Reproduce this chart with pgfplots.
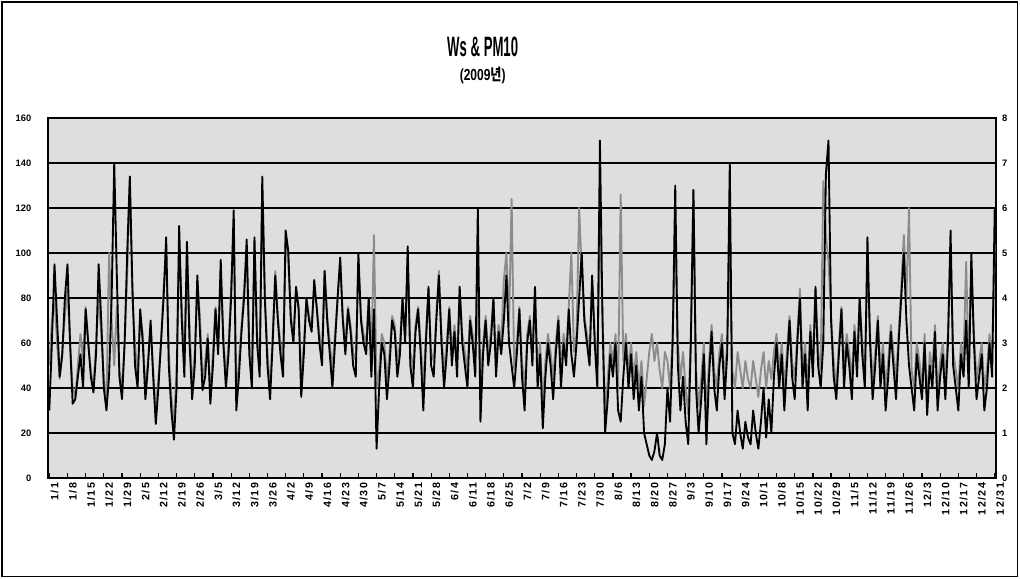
\documentclass[border=0pt]{standalone}
\usepackage{pgfplots}
\pgfplotsset{compat=1.18}
\usepackage{pgfplotstable}
\usepackage{graphicx}
\usepackage{fontspec}
\setmainfont{Liberation Sans}
\newfontfamily\cjk{Noto Sans CJK KR}
\newfontfamily\xtf{Liberation Sans}[LetterSpace=14]

% PM10 (left axis), one value per day 1/1 .. 12/31
\pgfplotstableread[row sep=\\]{v\\
30\\60\\95\\70\\45\\55\\80\\95\\60\\33\\
35\\45\\55\\40\\75\\60\\45\\38\\55\\95\\
70\\40\\30\\45\\80\\140\\90\\45\\35\\60\\
100\\134\\85\\50\\40\\75\\60\\35\\50\\70\\
45\\24\\40\\60\\80\\107\\50\\30\\17\\40\\
112\\70\\45\\105\\60\\35\\50\\90\\65\\39\\
45\\62\\33\\50\\75\\55\\97\\60\\40\\55\\
80\\119\\30\\45\\65\\80\\106\\55\\40\\107\\
60\\45\\134\\80\\50\\35\\60\\90\\70\\55\\
45\\110\\101\\70\\60\\85\\75\\36\\55\\80\\
70\\65\\88\\75\\60\\50\\92\\70\\55\\40\\
60\\80\\98\\70\\55\\75\\65\\50\\45\\100\\
70\\60\\55\\80\\45\\75\\13\\40\\60\\55\\
35\\50\\70\\65\\45\\55\\80\\60\\103\\50\\
40\\65\\75\\55\\30\\60\\85\\50\\45\\70\\
90\\60\\40\\55\\75\\50\\65\\45\\85\\60\\
50\\40\\70\\60\\45\\120\\25\\55\\70\\50\\
60\\80\\45\\65\\55\\70\\90\\60\\50\\40\\
55\\75\\45\\30\\60\\70\\50\\85\\40\\55\\
22\\45\\60\\50\\35\\55\\70\\40\\60\\50\\
75\\55\\45\\60\\80\\100\\70\\60\\50\\90\\
60\\40\\150\\70\\20\\35\\55\\45\\60\\30\\
25\\45\\60\\40\\55\\35\\50\\30\\45\\20\\
15\\10\\8\\12\\20\\10\\8\\15\\40\\25\\
60\\130\\50\\30\\45\\25\\15\\60\\128\\40\\
20\\35\\55\\15\\45\\65\\40\\30\\50\\60\\
35\\55\\140\\20\\15\\30\\20\\13\\25\\18\\
15\\30\\20\\13\\25\\40\\18\\35\\20\\45\\
60\\40\\55\\30\\50\\70\\45\\35\\60\\80\\
40\\55\\30\\65\\45\\85\\50\\40\\60\\135\\
150\\70\\45\\35\\55\\75\\40\\60\\50\\35\\
65\\45\\80\\55\\40\\107\\60\\35\\50\\70\\
40\\55\\30\\45\\65\\50\\35\\60\\80\\100\\
70\\50\\40\\30\\55\\45\\35\\60\\28\\50\\
40\\65\\30\\45\\55\\35\\60\\110\\50\\40\\
30\\55\\45\\70\\40\\100\\60\\35\\45\\55\\
30\\40\\60\\45\\120\\
}\pmdata

% Ws (right axis), one value per day
\pgfplotstableread[row sep=\\]{v\\
2.5\\3.5\\4.0\\3.0\\2.2\\2.8\\3.6\\4.2\\3.0\\2.0\\
1.8\\2.5\\3.2\\2.6\\3.8\\3.0\\2.4\\2.0\\3.0\\4.0\\
3.2\\2.2\\1.6\\5.0\\3.5\\2.5\\3.8\\2.4\\2.0\\3.0\\
4.5\\6.6\\4.0\\3.0\\2.2\\3.6\\3.2\\2.0\\2.6\\3.4\\
2.4\\1.5\\2.2\\3.0\\4.2\\5.0\\2.8\\1.8\\1.2\\2.4\\
5.2\\3.8\\2.6\\5.0\\3.4\\2.0\\2.8\\4.4\\3.6\\2.2\\
2.6\\3.2\\1.8\\2.8\\3.8\\3.0\\4.6\\3.2\\2.2\\3.0\\
4.2\\5.6\\1.8\\2.6\\3.4\\4.2\\5.0\\3.0\\2.4\\5.2\\
3.2\\2.6\\6.4\\4.0\\2.8\\2.0\\3.2\\4.6\\3.6\\3.0\\
2.6\\5.4\\4.8\\3.6\\3.2\\4.2\\3.8\\2.2\\3.0\\4.0\\
3.6\\3.4\\4.2\\3.8\\3.2\\2.8\\4.6\\3.6\\3.0\\2.4\\
3.2\\4.0\\4.8\\3.6\\3.0\\3.8\\3.4\\2.8\\2.6\\4.8\\
3.6\\3.2\\3.0\\4.0\\2.6\\5.4\\2.0\\2.4\\3.2\\3.0\\
2.2\\2.8\\3.6\\3.4\\2.6\\3.0\\4.0\\3.2\\4.8\\2.8\\
2.4\\3.4\\3.8\\3.0\\2.0\\3.2\\4.2\\2.8\\2.6\\3.6\\
4.6\\3.2\\2.4\\3.0\\3.8\\2.8\\3.4\\2.6\\4.2\\3.2\\
2.8\\2.4\\3.6\\3.2\\2.6\\4.0\\2.0\\3.0\\3.6\\2.8\\
3.2\\4.0\\2.6\\3.4\\3.0\\4.4\\5.0\\3.4\\6.2\\2.4\\
3.0\\3.8\\2.6\\2.0\\3.2\\3.6\\2.8\\4.2\\2.4\\3.0\\
1.6\\2.6\\3.2\\2.8\\2.2\\3.0\\3.6\\2.4\\3.2\\2.8\\
3.8\\5.0\\2.8\\3.2\\6.0\\4.6\\3.6\\3.2\\2.8\\4.4\\
3.2\\2.4\\5.6\\3.6\\1.4\\2.2\\3.0\\2.6\\3.2\\2.0\\
6.3\\2.6\\3.2\\2.4\\3.0\\2.2\\2.8\\2.0\\2.6\\1.6\\
2.2\\2.8\\3.2\\2.6\\3.0\\2.4\\2.0\\2.8\\2.6\\2.0\\
3.2\\5.4\\3.0\\2.2\\2.8\\2.0\\1.4\\3.2\\6.4\\2.4\\
1.6\\2.2\\3.0\\1.4\\2.6\\3.4\\2.4\\2.0\\2.8\\3.2\\
2.2\\3.0\\5.0\\2.4\\2.0\\2.8\\2.4\\2.0\\2.6\\2.2\\
2.0\\2.6\\2.2\\1.8\\2.4\\2.8\\2.0\\2.6\\2.2\\2.8\\
3.2\\2.4\\3.0\\2.0\\2.8\\3.6\\2.6\\2.2\\3.2\\4.2\\
2.4\\3.0\\2.0\\3.4\\2.6\\4.2\\2.8\\2.4\\6.6\\5.4\\
4.8\\3.6\\2.6\\2.0\\3.0\\3.8\\2.4\\3.2\\2.8\\2.2\\
3.4\\2.6\\4.0\\3.0\\2.4\\4.8\\3.2\\2.2\\2.8\\3.6\\
2.4\\3.0\\2.0\\2.6\\3.4\\2.8\\2.2\\3.2\\4.2\\5.4\\
4.0\\6.0\\2.4\\2.0\\3.0\\2.6\\2.0\\3.2\\1.6\\2.8\\
2.4\\3.4\\1.8\\2.6\\3.0\\2.2\\3.2\\5.0\\2.8\\2.4\\
2.0\\3.0\\2.6\\4.8\\2.4\\4.6\\3.2\\2.2\\2.6\\3.0\\
2.0\\2.4\\3.2\\2.6\\5.2\\
}\wsdata

\begin{document}
\begin{tikzpicture}
% right axis (Ws) with the plot area, grid and the date axis
\begin{axis}[name=ws,
  scale only axis, width=711pt, height=270pt,
  xmin=-0.5, xmax=364.5, ymin=0, ymax=8,
  axis background/.style={fill=black!13},
  axis line style={line width=1.4pt},
  ymajorgrids, grid style={line width=1.9pt, black},
  ytick={0,1,...,8}, yticklabel pos=right,
  ytick style={draw=none},
  yticklabel style={font=\fontsize{7}{8}\selectfont\bfseries, xshift=1pt},
  /pgf/number format/assume math mode=true,
  xtick={0,7,...,364},
  xticklabels={1/1,1/8,1/15,1/22,1/29,2/5,2/12,2/19,2/26,3/5,3/12,3/19,3/26,4/2,4/9,4/16,4/23,4/30,5/7,5/14,5/21,5/28,6/4,6/11,6/18,6/25,7/2,7/9,7/16,7/23,7/30,8/6,8/13,8/20,8/27,9/3,9/10,9/17,9/24,10/1,10/8,10/15,10/22,10/29,11/5,11/12,11/19,11/26,12/3,12/10,12/17,12/24,12/31},
  xtick pos=bottom, xtick align=inside,
  major tick length=4pt,
  xtick style={line width=0.9pt, black},
  xticklabel style={rotate=90, anchor=east, font=\xtf\fontsize{8}{9}\selectfont\bfseries, yshift=-4pt},
]
\addplot[black!45, line width=1.4pt, line join=round, no markers]
  table[x expr=\coordindex, y=v]{\wsdata};
\end{axis}
% left axis (PM10)
\begin{axis}[
  scale only axis, width=711pt, height=270pt,
  xmin=-0.5, xmax=364.5, ymin=0, ymax=160,
  axis x line=none, axis y line*=left,
  axis line style={line width=1.4pt},
  ytick={0,20,...,160}, ytick style={draw=none},
  yticklabel style={font=\fontsize{7}{8}\selectfont\bfseries, xshift=-9pt},
  /pgf/number format/assume math mode=true,
]
\addplot[black, line width=1.4pt, line join=round, no markers]
  table[x expr=\coordindex, y=v]{\pmdata};
\end{axis}
% titles
\node at ([shift={(326pt,53pt)}]ws.north west)
  {\scalebox{0.47}[1]{\fontsize{21}{24}\selectfont\bfseries Ws \& PM10}};
\node at ([shift={(326pt,32pt)}]ws.north west)
  {\scalebox{0.75}[1]{\fontsize{12}{14}\selectfont\bfseries (2009{\cjk 년})}};
% page extent and outer frame
\path[use as bounding box] ([shift={(-36pt,-75.75pt)}]ws.south west) rectangle ([shift={(18pt,88.5pt)}]ws.north east);
\draw[line width=1.1pt] ([shift={(-34.5pt,-74pt)}]ws.south west) rectangle ([shift={(16pt,87pt)}]ws.north east);
\end{tikzpicture}
\end{document}
